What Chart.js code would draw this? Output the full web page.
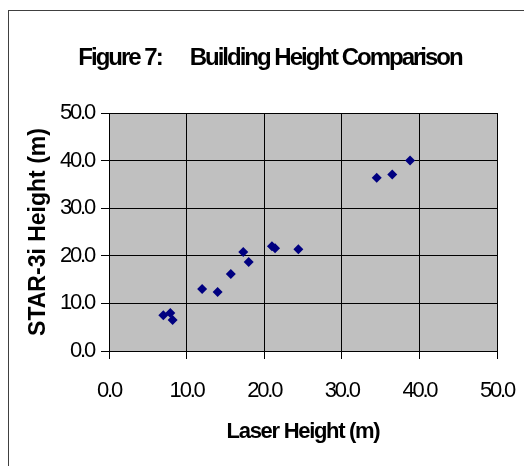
<!DOCTYPE html>
<html>
<head>
<meta charset="utf-8">
<script src="https://cdn.jsdelivr.net/npm/chart.js@4/dist/chart.umd.min.js"></script>
<style>
  html, body { margin: 0; padding: 0; background: #fff; }
  #wrap { width: 524px; height: 466px; position: relative; }
</style>
</head>
<body>
<div id="wrap"><canvas id="chart1" width="524" height="466"></canvas></div>
<script>
// values
const laserHeight = [7.0, 7.9, 8.2, 12.0, 14.0, 15.7, 17.3, 18.0, 21.0, 21.4, 24.4, 34.5, 36.5, 38.8];
const starHeight  = [7.5, 8.0, 6.5, 13.0, 12.4, 16.2, 20.8, 18.7, 22.0, 21.6, 21.4, 36.4, 37.1, 40.0];
const axisMin = 0;
const axisMax = 50;
const axisStep = 10;

const titleText = 'Figure 7:      Building Height Comparison';
const xTitle = 'Laser Height (m)';
const yTitle = 'STAR-3i Height (m)';

const fontFamily = '"Liberation Sans", Arial, sans-serif';
const points = laserHeight.map((x, i) => ({ x: x, y: starHeight[i] }));

// Excel squeezes its text, so give each piece its own letter spacing
function spaced(scale, spacing) {
    const orig = scale.drawTitle;
    scale.drawTitle = function () {
        const ctx = this.ctx;
        const old = ctx.letterSpacing;
        ctx.letterSpacing = spacing;
        orig.apply(this, arguments);
        ctx.letterSpacing = old;
    }
}

// gray plot area, frame round the chart and the big title
const excelLook = {
    id: 'excelLook',
    beforeLayout(chart) {
        chart.ctx.letterSpacing = '-2.2px';
    },
    afterLayout(chart) {
        if (chart.scales.x._spaced) return;
        spaced(chart.scales.x, '-1.3px');
        spaced(chart.scales.y, '0px');
        chart.scales.x._spaced = true;
    },
    beforeDraw(chart) {
        const ctx = chart.ctx;
        const a = chart.chartArea;
        ctx.letterSpacing = '-2.2px';
        ctx.save();
        ctx.fillStyle = '#c0c0c0';
        ctx.fillRect(a.left, a.top, a.right - a.left, a.bottom - a.top);
        ctx.strokeStyle = '#404040';
        ctx.lineWidth = 1;
        ctx.strokeRect(8.5, 10.5, 700, 700);
        ctx.fillStyle = '#000';
        ctx.font = 'bold 24px ' + fontFamily;
        ctx.letterSpacing = '-2px';
        ctx.textAlign = 'center';
        ctx.textBaseline = 'alphabetic';
        ctx.fillText(titleText, 270, 65);
        ctx.restore();
    }
}

new Chart('chart1', {
    type: 'scatter',
    data: {
        datasets: [{
            data: points,
            pointStyle: 'rectRot',
            radius: 5,
            hoverRadius: 5,
            backgroundColor: '#000080',
            borderColor: '#000080',
            borderWidth: 0
        }]
    },
    options: {
        responsive: false,
        animation: false,
        events: [],
        layout: { padding: { left: 0, top: 113, right: 27, bottom: 0 } },
        plugins: { legend: { display: false }, tooltip: { enabled: false }, title: { display: false } },
        scales: {
            x: {
                type: 'linear',
                min: axisMin,
                max: axisMax,
                afterFit: (s) => { s.height = 115; s.paddingLeft = 0; s.paddingRight = 0 },
                ticks: {
                    stepSize: axisStep,
                    padding: 19,
                    color: '#000',
                    font: { family: fontFamily, size: 22 },
                    callback: (v) => v.toFixed(1),
                    maxRotation: 0
                },
                grid: { color: '#000', lineWidth: 1, tickLength: 8, tickColor: '#000' },
                border: { color: '#000' },
                title: {
                    display: true,
                    text: xTitle,
                    color: '#000',
                    font: { family: fontFamily, size: 22, weight: 'bold' },
                    padding: { top: 0, bottom: 21 }
                }
            },
            y: {
                type: 'linear',
                min: axisMin,
                max: axisMax,
                afterFit: (s) => { s.width = 109; s.paddingTop = 0; s.paddingBottom = 0 },
                ticks: {
                    stepSize: axisStep,
                    padding: 7,
                    color: '#000',
                    font: { family: fontFamily, size: 22 },
                    callback: (v) => v.toFixed(1)
                },
                grid: { color: '#000', lineWidth: 1, tickLength: 8, tickColor: '#000' },
                border: { color: '#000' },
                title: {
                    display: true,
                    text: yTitle,
                    color: '#000',
                    font: { family: fontFamily, size: 23, weight: 'bold' },
                    padding: { top: 25, bottom: 0 }
                }
            }
        }
    },
    plugins: [excelLook]
});
</script>
</body>
</html>
